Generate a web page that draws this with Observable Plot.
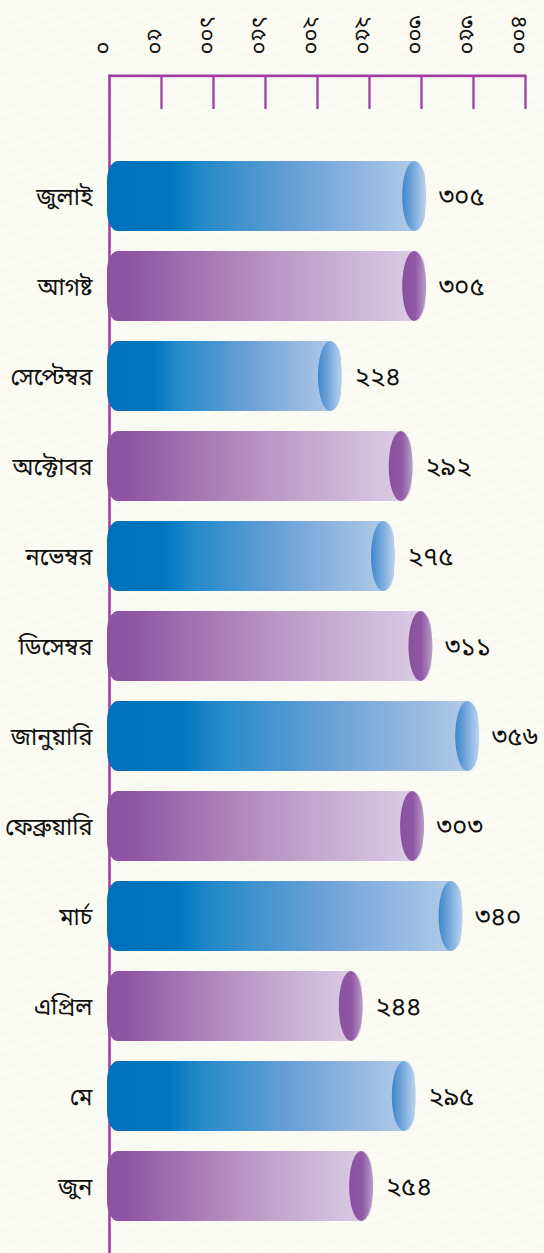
<!DOCTYPE html>
<html>
<head>
<meta charset="utf-8">
<script src="https://cdn.jsdelivr.net/npm/d3@7"></script>
<script src="https://cdn.jsdelivr.net/npm/@observablehq/plot@0.6"></script>
<style>
  html, body { margin: 0; padding: 0; }
  body {
    width: 544px; height: 1253px; overflow: hidden;
    background-color: #fafaf2;
    background-image: repeating-linear-gradient(160deg, rgba(255,255,255,0) 0px, rgba(255,255,255,0) 7px, rgba(255,255,255,0.55) 9px, rgba(255,255,255,0) 11px);
  }
  #chart svg { display: block; }
</style>
</head>
<body>
<div id="chart"></div>
<script>
// ---- data ----
const months = ["জুলাই", "আগষ্ট", "সেপ্টেম্বর", "অক্টোবর", "নভেম্বর", "ডিসেম্বর", "জানুয়ারি", "ফেব্রুয়ারি", "মার্চ", "এপ্রিল", "মে", "জুন"];
const values = [305, 305, 224, 292, 275, 311, 356, 303, 340, 244, 295, 254];
const valueLabels = ["৩০৫", "৩০৫", "২২৪", "২৯২", "২৭৫", "৩১১", "৩৫৬", "৩০৩", "৩৪০", "২৪৪", "২৯৫", "২৫৪"];
const seriesColor = ["blue", "purple", "blue", "purple", "blue", "purple", "blue", "purple", "blue", "purple", "blue", "purple"];
const tickValues = [0, 50, 100, 150, 200, 250, 300, 350, 400];
const tickLabels = ["০", "৫০", "১০০", "১৫০", "২০০", "২৫০", "৩০০", "৩৫০", "৪০০"];

const data = months.map((m, i) => ({month: m, value: values[i], label: valueLabels[i], color: seriesColor[i]}));
const blue = data.filter(d => d.color === "blue");
const purple = data.filter(d => d.color === "purple");

const W = 544, H = 1253, MT = 76, MB = 0;
const frameH = H - MT - MB;
const axisColor = "#a03ea6";
const FONT = "'Noto Sans Bengali', 'Lohit Bengali', 'FreeSans', 'Noto Sans', sans-serif";

const body = (arr, fill) => Plot.barX(arr, {
  x1: () => 0, x2: "value", y: "month", fill,
  insetLeft: -2, insetRight: 1, rx: 11, ry: 20
});
const cap = (arr, fill) => Plot.barX(arr, {
  x1: "value", x2: "value", y: "month", fill,
  insetLeft: -24, insetRight: 0, rx: 12, ry: 35
});

const svg = Plot.plot({
  width: W, height: H,
  marginLeft: 109, marginRight: 19, marginTop: MT, marginBottom: MB,
  style: {background: "transparent", fontFamily: FONT, color: "#111"},
  x: {domain: [0, 400], axis: null},
  y: {domain: months, range: [151, 1231], paddingInner: 0.2222, paddingOuter: 0.1111, axis: null},
  marks: [
    // top axis line
    Plot.barX([{a: 0, b: 400}], {x1: "a", x2: "b", fill: axisColor, insetTop: -1.5, insetBottom: frameH - 1.2, insetRight: -1.2}),
    // ticks pointing down
    Plot.ruleX(tickValues.slice(1), {stroke: axisColor, strokeWidth: 2.3, insetTop: -1, insetBottom: frameH - 33}),
    // left axis line
    Plot.ruleX([0], {stroke: axisColor, strokeWidth: 2.6, insetTop: -1.5}),
    // tick labels, rotated
    Plot.axisX({
      anchor: "top", ticks: tickValues, label: null,
      tickFormat: d => tickLabels[tickValues.indexOf(d)],
      tickSize: 0, tickPadding: 22, tickRotate: 90,
      textAnchor: "end", lineAnchor: "middle",
      dx: -6, fontSize: 22, fill: "#111"
    }),
    // category labels
    Plot.axisY({
      anchor: "left", label: null, tickSize: 0, tickPadding: 17, fontSize: 23.5, fill: "#111", dy: 1
    }),
    body(blue, "url(#blueBody)"),
    body(purple, "url(#purpleBody)"),
    cap(blue, "url(#blueCap)"),
    cap(purple, "url(#purpleCap)"),
    Plot.text(data, {x: "value", y: "month", text: "label", dx: 12, textAnchor: "start", fontSize: 26, fill: "#111"})
  ]
});

const defs = d3.select(svg).insert("defs", ":first-child");
function grad(id, stops) {
  const g = defs.append("linearGradient").attr("id", id).attr("x1", 0).attr("x2", 1).attr("y1", 0).attr("y2", 0);
  for (const [o, c] of stops) g.append("stop").attr("offset", o).attr("stop-color", c);
}
grad("blueBody", [[0, "#0071bb"], [0.2, "#0076bf"], [0.3, "#248ac9"], [0.6, "#6aa0d6"], [1, "#b6cdea"]]);
grad("purpleBody", [[0, "#8b52a0"], [0.08, "#8f57a3"], [0.5, "#b893c4"], [1, "#ddd0e6"]]);
grad("blueCap", [[0, "#3f86cb"], [0.4, "#6ea3d9"], [1, "#bed4ee"]]);
grad("purpleCap", [[0, "#8a509f"], [0.55, "#9159a5"], [1, "#b6a0c8"]]);

document.getElementById("chart").appendChild(svg);
</script>
</body>
</html>
